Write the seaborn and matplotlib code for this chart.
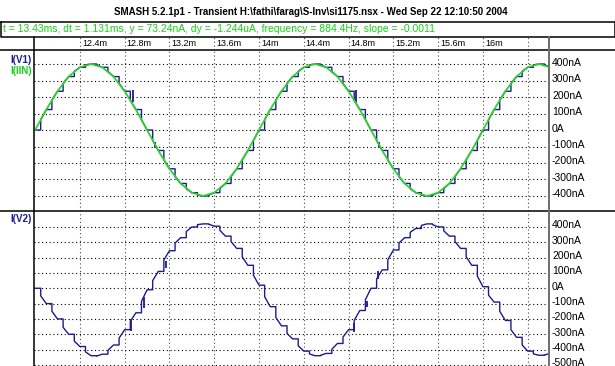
import numpy as np
import pandas as pd
import matplotlib
matplotlib.use("Agg")
import matplotlib.pyplot as plt
import matplotlib.transforms as mtransforms
from matplotlib import font_manager
import seaborn as sns

# ---------------- data ----------------
title = "SMASH 5.2.1p1 - Transient H:\\fathi\\farag\\S-Inv\\si1175.nsx - Wed Sep 22 12:10:50 2004"
cursor_info = "t = 13.43ms, dt = 1.131ms, y = 73.24nA, dy = -1.244uA, frequency = 884.4Hz, slope = -0.0011"

# sample times (ms): start of each hold phase
t_ms = [12.0, 12.1, 12.2, 12.3, 12.4, 12.5, 12.6, 12.7, 12.8, 12.9,
        13.0, 13.1, 13.2, 13.3, 13.4, 13.5, 13.6, 13.7, 13.8, 13.9,
        14.0, 14.1, 14.2, 14.3, 14.4, 14.5, 14.6, 14.7, 14.8, 14.9,
        15.0, 15.1, 15.2, 15.3, 15.4, 15.5, 15.6, 15.7, 15.8, 15.9,
        16.0, 16.1, 16.2, 16.3, 16.4, 16.5, 16.6]
# end of each hold phase (ms)
t_half_ms = [12.05, 12.15, 12.25, 12.35, 12.45, 12.55, 12.65, 12.75, 12.85, 12.95,
             13.05, 13.15, 13.25, 13.35, 13.45, 13.55, 13.65, 13.75, 13.85, 13.95,
             14.05, 14.15, 14.25, 14.35, 14.45, 14.55, 14.65, 14.75, 14.85, 14.95,
             15.05, 15.15, 15.25, 15.35, 15.45, 15.55, 15.65, 15.75, 15.85, 15.95,
             16.05, 16.15, 16.25, 16.35, 16.45, 16.55, 16.65]

# I(IIN) (green, nA) at t_ms
i_iin_na = [0, 124, 235, 324, 380, 400, 380, 324, 235, 124,
            0, -124, -235, -324, -380, -400, -380, -324, -235, -124,
            0, 124, 235, 324, 380, 400, 380, 324, 235, 124,
            0, -124, -235, -324, -380, -400, -380, -324, -235, -124,
            0, 124, 235, 324, 380, 400, 380]

# I(V1) (navy, nA): held level from t_ms, and level reached at t_half_ms
i_v1_hold_na = [0, 124, 235, 324, 380, 400, 380, 324, 235, 124,
                0, -124, -235, -324, -380, -400, -380, -324, -235, -124,
                0, 124, 235, 324, 380, 400, 380, 324, 235, 124,
                0, -124, -235, -324, -380, -400, -380, -324, -235, -124,
                0, 124, 235, 324, 380, 400, 380]
i_v1_jump_na = [63, 182, 283, 356, 395, 395, 356, 283, 182, 63,
                -63, -182, -283, -356, -395, -395, -356, -283, -182, -63,
                63, 182, 283, 356, 395, 395, 356, 283, 182, 63,
                -63, -182, -283, -356, -395, -395, -356, -283, -182, -63,
                63, 182, 283, 356, 395, 395, 356]

# I(V2) (navy, nA): held level from t_ms, and level reached at t_half_ms
i_v2_hold_na = [0, -100, -200, -300, -380, -440, -430, -370, -270, -160,
                -10, 110, 245, 330, 400, 420, 405, 340, 260, 150,
                20, -120, -245, -330, -410, -440, -425, -360, -270, -145,
                0, 120, 250, 330, 390, 420, 400, 340, 260, 150,
                10, -90, -210, -320, -410, -437, -425]
i_v2_jump_na = [-50, -150, -255, -345, -415, -442, -405, -325, -215, -85,
                50, 185, 295, 370, 415, 418, 378, 305, 205, 85,
                -55, -190, -295, -375, -428, -437, -398, -318, -210, -75,
                60, 185, 295, 365, 410, 415, 375, 305, 205, 80,
                -45, -150, -270, -370, -428, -435, -405]

# short switching glitches
glitch_v1_t = [12.87, 13.07, 14.87, 15.07]
glitch_v1_lo = [170, -110, 170, -110]
glitch_v1_hi = [240, -70, 242, -70]
glitch_v2_t = [12.86, 12.97, 13.17, 14.85, 14.96, 15.06]
glitch_v2_lo = [-280, -130, 130, -285, -120, 60]
glitch_v2_hi = [-200, -60, 175, -225, -80, 110]

x_ticks = [12.4, 12.8, 13.2, 13.6, 14.0, 14.4, 14.8, 15.2, 15.6, 16.0, 16.4]
x_labels = ["12.4m", "12.8m", "13.2m", "13.6m", "14m", "14.4m", "14.8m",
            "15.2m", "15.6m", "16m", ""]
top_yticks = [400, 300, 200, 100, 0, -100, -200, -300, -400]
top_ylabels = ["400nA", "300nA", "200nA", "100nA", "0A", "-100nA", "-200nA",
               "-300nA", "-400nA"]
bot_yticks = [400, 300, 200, 100, 0, -100, -200, -300, -400, -500]
bot_ylabels = ["400nA", "300nA", "200nA", "100nA", "0A", "-100nA", "-200nA",
               "-300nA", "-400nA", "-500nA"]

# ---------------- style ----------------
sns.set_theme(style="white")
avail = {f.name for f in font_manager.fontManager.ttflist}
FONT = "Liberation Sans Narrow" if "Liberation Sans Narrow" in avail else "Liberation Sans"
plt.rcParams["font.family"] = [FONT, "DejaVu Sans"]

NAVY = "#1c1c8e"
GREEN = "#2ed12e"
TXT_GREEN = "#14d414"
W, H = 615, 366
fig = plt.figure(figsize=(W / 100, H / 100), dpi=100)
fig.patch.set_facecolor("white")
renderer = fig.canvas.get_renderer()


def fit_size(s, target_px, weight="normal"):
    t = fig.text(0, 0, s, fontsize=10, fontweight=weight)
    w = t.get_window_extent(renderer=renderer).width
    t.remove()
    return 10 * target_px / w


def fax(x0, y0, x1, y1):
    """axes from pixel box (y measured from top)"""
    return fig.add_axes([x0 / W, 1 - y1 / H, (x1 - x0) / W, (y1 - y0) / H])


def hold_track(t0, t1, hold, jump):
    """table of a track-and-hold trace: hold level, then jump, then track"""
    ts, vs = [], []
    for a, b, h, j in zip(t0, t1, hold, jump):
        ts += [a, b, b]
        vs += [h, h, j]
    return pd.DataFrame({"t": ts, "i": vs})


XL, XR = 34, 549
TOP0, TOP1 = 50, 211
BOT0, BOT1 = 211, 366
XLIM = (11.99, 16.59)

ax_top = fax(XL, TOP0, XR, TOP1)
ax_bot = fax(XL, BOT0, XR, BOT1)
ax_tck = fax(XL, 37, XR, TOP0)

dot = dict(color="black", lw=0.8, linestyle=(0, (1, 2.4)))
vdot = dict(color="0.3", lw=0.8, linestyle=(0, (1, 2.4)))

for ax in (ax_top, ax_bot, ax_tck):
    ax.set_xlim(*XLIM)
    ax.set_facecolor("white")
    for sp in ax.spines.values():
        sp.set_visible(False)
    ax.set_xticks([])
    ax.set_yticks([])
    for xt in x_ticks:
        ax.axvline(xt, zorder=0, **vdot)

ax_top.set_ylim(-491, 485)
ax_bot.set_ylim(-507, 504)
ax_tck.set_ylim(0, 1)

for yt in top_yticks:
    ax_top.axhline(yt, zorder=0, **dot)
for yt in bot_yticks:
    ax_bot.axhline(yt, zorder=0, **dot)

# curves
df_v1 = hold_track(t_ms, t_half_ms, i_v1_hold_na, i_v1_jump_na)
df_in = pd.DataFrame({"t": t_ms, "i": i_iin_na})
df_v2 = hold_track(t_ms, t_half_ms, i_v2_hold_na, i_v2_jump_na)
sns.lineplot(data=df_v1, x="t", y="i", ax=ax_top, color=NAVY, lw=1.0,
             estimator=None, sort=False, zorder=2)
ax_top.vlines(glitch_v1_t, glitch_v1_lo, glitch_v1_hi, color=NAVY, lw=1.3, zorder=2)
sns.lineplot(data=df_in, x="t", y="i", ax=ax_top, color=GREEN, lw=1.3,
             estimator=None, sort=False, zorder=3)
sns.lineplot(data=df_v2, x="t", y="i", ax=ax_bot, color=NAVY, lw=1.0,
             estimator=None, sort=False, zorder=2)
ax_bot.vlines(glitch_v2_t, glitch_v2_lo, glitch_v2_hi, color=NAVY, lw=1.3, zorder=2)
for ax in (ax_top, ax_bot):
    ax.set_xlabel("")
    ax.set_ylabel("")
    ax.set_xlim(*XLIM)

# tick labels
tick_fs = fit_size("12.4m", 25)
off = mtransforms.offset_copy(ax_tck.transData, fig=fig, x=2, y=0, units="dots")
for xt, lab in zip(x_ticks, x_labels):
    ax_tck.text(xt, 0.5, lab, transform=off, ha="left", va="center",
                fontsize=tick_fs, color="black")

# right-hand value labels
ylab_fs = fit_size("400nA", 30)
for ax, ticks, labs in ((ax_top, top_yticks, top_ylabels), (ax_bot, bot_yticks, bot_ylabels)):
    tr = mtransforms.blended_transform_factory(ax.transAxes, ax.transData)
    tr = mtransforms.offset_copy(tr, fig=fig, x=3, y=1.5, units="dots")
    for yt, lab in zip(ticks, labs):
        ax.text(1.0, yt, lab, transform=tr, ha="left", va="center",
                fontsize=ylab_fs, color="black", clip_on=False)

# overlay for frame and header texts (pixel coordinates)
ov = fig.add_axes([0, 0, 1, 1], facecolor="none")
ov.set_xlim(0, W)
ov.set_ylim(H, 0)
ov.axis("off")

title_fs = fit_size(title, 395, "bold")
ov.text(311, 12, title, ha="center", va="center", fontsize=title_fs,
        fontweight="bold", color="black")
info_fs = fit_size(cursor_info, 430)
ov.text(3, 29.5, cursor_info, ha="left", va="center", fontsize=info_fs,
        color=TXT_GREEN)

lw_frame = 1.1
ov.plot([0.5, W - 0.5, W - 0.5, 0.5, 0.5], [22, 22, 37, 37, 22], color="black", lw=lw_frame)
ov.plot([0, W], [TOP0, TOP0], color="black", lw=lw_frame)
ov.plot([0, W], [BOT0, BOT0], color="black", lw=lw_frame)
ov.plot([XL, XL], [37, H], color="black", lw=lw_frame)
ov.plot([XR, XR], [37, H], color="#6e6e6e", lw=1.4)

lab_fs = fit_size("I(V1)", 21, "bold")
ov.text(10, 60, "I(V1)", ha="left", va="center", fontsize=lab_fs,
        fontweight="bold", color=NAVY)
ov.text(10, 71.5, "I(IIN)", ha="left", va="center", fontsize=lab_fs,
        fontweight="bold", color=TXT_GREEN)
ov.text(10, 219.5, "I(V2)", ha="left", va="center", fontsize=lab_fs,
        fontweight="bold", color=NAVY)

fig.savefig("out.png", dpi=100, facecolor="white")
